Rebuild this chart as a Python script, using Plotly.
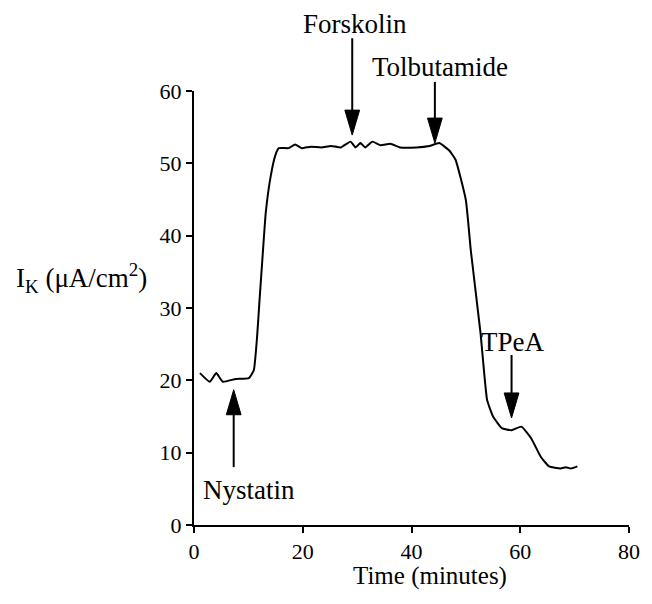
import plotly.graph_objects as go

# Potassium current trace (minutes, uA/cm^2)
time_min = [1.1, 2.9, 4.1, 5.3, 7.7, 10.1, 11.0, 11.6, 12.0, 12.6, 13.2, 14.1, 15.0,
            15.6, 17.4, 18.6, 19.8, 21.5, 23.4, 25.2, 27.0, 28.8, 29.7, 30.6, 31.5,
            32.8, 34.3, 36.1, 37.9, 40.9, 43.3, 45.1, 46.9, 48.1, 50.0, 50.9, 52.7,
            53.9, 55.0, 56.6, 58.4, 60.2, 62.0, 63.8, 65.3, 67.4, 68.4, 69.3, 70.5]
current_ik = [21.0, 19.8, 21.0, 19.8, 20.2, 20.3, 21.4, 26.0, 30.5, 37.0, 43.2, 48.2, 51.2,
              52.1, 52.1, 52.6, 52.1, 52.3, 52.2, 52.4, 52.2, 53.0, 52.2, 52.8, 52.2,
              53.0, 52.5, 52.7, 52.2, 52.2, 52.4, 52.8, 51.8, 50.5, 44.9, 38.0, 26.5,
              17.3, 15.0, 13.4, 13.1, 13.6, 12.0, 9.4, 8.1, 7.8, 8.0, 7.8, 8.1]

x_ticks = [0, 20, 40, 60, 80]
y_ticks = [0, 10, 20, 30, 40, 50, 60]
x_range = [0, 80]
y_range = [0, 60]

# Drug additions: label, arrow x, arrow tip y, arrow tail y
drug_names = ["Nystatin", "Forskolin", "Tolbutamide", "TPeA"]
drug_time = [7.3, 29.1, 44.3, 58.4]
arrow_tip = [18.7, 53.9, 52.8, 14.8]
arrow_tail = [8.0, 67.3, 61.25, 23.5]
# label centres in paper coordinates
label_px = [0.127, 0.369, 0.566, 0.733]
label_py = [0.081, 1.154, 1.055, 0.422]

W, H = 652, 604
M_L, M_R, M_T, M_B = 194, 16, 91, 79
plot_w = W - M_L - M_R
plot_h = H - M_T - M_B

FONT = "Liberation Serif"


def px_x(v):
    return (v - x_range[0]) / (x_range[1] - x_range[0])


def px_y(v):
    return (v - y_range[0]) / (y_range[1] - y_range[0])


fig = go.Figure()
fig.add_trace(go.Scatter(
    x=time_min, y=current_ik, mode="lines",
    line=dict(color="black", width=2, shape="spline", smoothing=0.4),
    hoverinfo="skip", showlegend=False,
))

shapes = []
annotations = []
head_len = 25 / plot_h   # arrowhead length in paper units
head_half = 7.5 / plot_w  # half arrowhead width in paper units
for name, t, tip, tail, lx, ly in zip(drug_names, drug_time, arrow_tip, arrow_tail,
                                      label_px, label_py):
    xp = px_x(t)
    yt = px_y(tip)
    yl = px_y(tail)
    sgn = 1 if yl > yt else -1
    base = yt + sgn * head_len
    shapes.append(dict(type="line", xref="paper", yref="paper",
                       x0=xp, x1=xp, y0=yl, y1=base,
                       line=dict(color="black", width=2)))
    shapes.append(dict(type="path", xref="paper", yref="paper",
                       path=f"M {xp - head_half},{base} L {xp + head_half},{base} L {xp},{yt} Z",
                       fillcolor="black", line=dict(color="black", width=1)))
    annotations.append(dict(text=name, xref="paper", yref="paper", x=lx, y=ly,
                            xanchor="center", yanchor="middle", showarrow=False,
                            font=dict(family=FONT, size=27, color="black")))

annotations.append(dict(text="Time (minutes)", xref="paper", yref="paper",
                        x=0.543, y=-0.118, xanchor="center", yanchor="middle",
                        showarrow=False, font=dict(family=FONT, size=25, color="black")))
annotations.append(dict(text="I<sub>K</sub> (\u03bcA/cm<sup>2</sup>)", xref="paper", yref="paper",
                        x=-0.258, y=0.569, xanchor="center", yanchor="middle",
                        showarrow=False, font=dict(family=FONT, size=27, color="black")))

axis_common = dict(showline=True, linecolor="black", linewidth=2, ticks="outside",
                   ticklen=6, tickwidth=1.5, tickcolor="black", showgrid=False,
                   zeroline=False, tickfont=dict(family=FONT, size=22, color="black"))

fig.update_layout(
    width=W, height=H,
    margin=dict(l=M_L, r=M_R, t=M_T, b=M_B),
    paper_bgcolor="white", plot_bgcolor="white",
    font=dict(family=FONT, color="black"),
    xaxis=dict(range=x_range, tickvals=x_ticks, **axis_common),
    yaxis=dict(range=y_range, tickvals=y_ticks, **axis_common),
    shapes=shapes, annotations=annotations, showlegend=False,
)

fig.write_html("out.html")
